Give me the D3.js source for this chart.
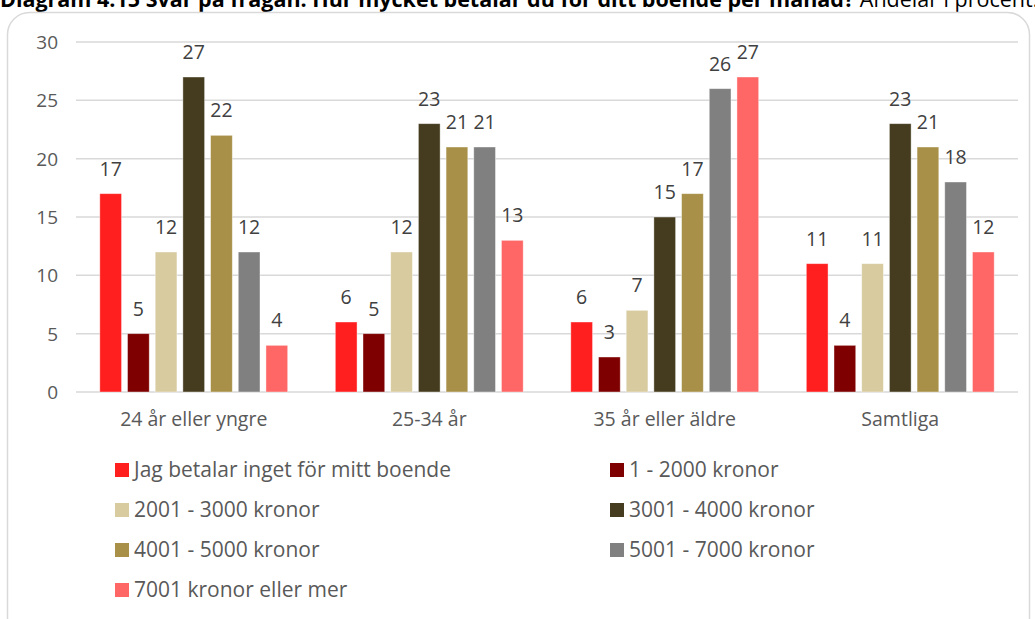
<!DOCTYPE html>
<html><head><meta charset="utf-8">
<script src="https://cdn.jsdelivr.net/npm/d3@7"></script>
<style>body{margin:0;background:#fff;}svg{display:block;font-family:"Open Sans","Noto Sans",sans-serif;}</style>
</head><body>
<script>
const categories = ["24 år eller yngre", "25-34 år", "35 år eller äldre", "Samtliga"];
const seriesNames = ["Jag betalar inget för mitt boende", "1 - 2000 kronor", "2001 - 3000 kronor", "3001 - 4000 kronor", "4001 - 5000 kronor", "5001 - 7000 kronor", "7001 kronor eller mer"];
const seriesColors = ["#FF1F1F", "#7F0000", "#D8CBA0", "#453B1F", "#A89048", "#808080", "#FF6666"];
const values = [
  [17, 6, 6, 11],
  [5, 5, 3, 4],
  [12, 12, 7, 11],
  [27, 23, 15, 23],
  [22, 21, 17, 21],
  [12, 21, 26, 18],
  [4, 13, 27, 12]
];
const yTicks = [0, 5, 10, 15, 20, 25, 30];

const W = 1035, H = 619;
const svg = d3.select("body").append("svg").attr("width", W).attr("height", H);

// title (partially cut off at top, as in the reference)
const t = svg.append("text").attr("x", 0).attr("y", 7).attr("font-size", 21.5).attr("fill", "#000")
  .attr("font-family", "Open Sans, sans-serif");
t.append("tspan").attr("font-weight", "bold").text("Diagram 4.15 Svar på frågan: Hur mycket betalar du för ditt boende per månad? ");
t.append("tspan").text("Andelar i procent.");

// border
svg.append("rect").attr("x", 7.5).attr("y", 12.5).attr("width", 1022).attr("height", 640)
  .attr("rx", 22).attr("fill", "#fff").attr("stroke", "#d9d9d9").attr("stroke-width", 1.5);

const plot = {left: 76, right: 1018, top: 42, bottom: 392};
const y = d3.scaleLinear().domain([0, 30]).range([plot.bottom, plot.top]);
const x0 = d3.scaleBand().domain(categories).range([plot.left, plot.right]).padding(0);
const x1 = d3.scaleBand().domain(d3.range(seriesNames.length)).range([0, x0.bandwidth()])
  .paddingInner(0.215).paddingOuter(0.86);

// gridlines
svg.append("g").selectAll("line").data(yTicks).join("line")
  .attr("x1", plot.left).attr("x2", plot.right)
  .attr("y1", d => y(d)).attr("y2", d => y(d))
  .attr("stroke", "#d9d9d9").attr("stroke-width", 1.5);

// y axis labels
const yAxis = d3.axisLeft(y).tickValues(yTicks).tickSize(0).tickPadding(0);
const ya = svg.append("g").attr("transform", `translate(${plot.left - 18},0)`).call(yAxis);
ya.select(".domain").remove();
ya.selectAll("text").attr("font-size", 19).attr("fill", "#595959")
  .attr("font-family", "Open Sans, sans-serif").attr("dy", "0.35em");

// x axis labels
const xAxis = d3.axisBottom(x0).tickSize(0).tickPadding(0);
const xa = svg.append("g").attr("transform", `translate(0,${plot.bottom + 19})`).call(xAxis);
xa.select(".domain").remove();
xa.selectAll("text").attr("font-size", 19.5).attr("fill", "#595959")
  .attr("font-family", "Open Sans, sans-serif").attr("dy", "0.75em");

// bars
const groups = svg.append("g").selectAll("g").data(categories).join("g")
  .attr("transform", c => `translate(${x0(c)},0)`);
groups.each(function(c, ci) {
  const g = d3.select(this);
  seriesNames.forEach((s, si) => {
    const v = values[si][ci];
    g.append("rect").attr("x", x1(si)).attr("width", x1.bandwidth())
      .attr("y", y(v)).attr("height", y(0) - y(v))
      .attr("fill", seriesColors[si]).attr("stroke", "#fff").attr("stroke-opacity", 0.5).attr("stroke-width", 0.8);
    g.append("text").attr("x", x1(si) + x1.bandwidth() / 2).attr("y", y(v) - 18)
      .attr("text-anchor", "middle").attr("font-size", 19.5).attr("fill", "#404040")
      .attr("font-family", "Open Sans, sans-serif").text(v);
  });
});

// legend
const legendCols = [115, 610];
const legendRows = [470, 510, 550, 590];
const lg = svg.append("g").selectAll("g").data(seriesNames).join("g")
  .attr("transform", (d, i) => `translate(${legendCols[i % 2]},${legendRows[Math.floor(i / 2)]})`);
lg.append("rect").attr("x", 0).attr("y", -7).attr("width", 14).attr("height", 14)
  .attr("fill", (d, i) => seriesColors[i]);
lg.append("text").attr("x", 19).attr("y", 0).attr("dy", "0.35em").attr("font-size", 21)
  .attr("fill", "#595959").attr("font-family", "Open Sans, sans-serif").text(d => d);
</script>
</body></html>
